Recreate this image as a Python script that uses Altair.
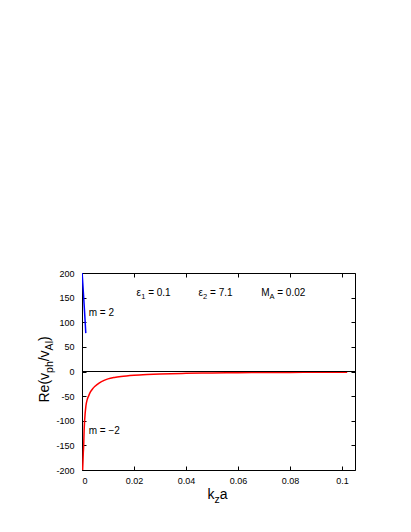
import altair as alt
import pandas as pd

# ---- data ----
kza_m_minus2 = [0.00025, 0.0005, 0.00065, 0.0008, 0.001, 0.0015, 0.002, 0.0026, 0.0033,
                0.0041, 0.005, 0.0067, 0.0085, 0.01, 0.0125, 0.015, 0.02, 0.025, 0.03,
                0.04, 0.05, 0.06, 0.07, 0.08, 0.09, 0.102]
vph_m_minus2 = [-200, -165, -150, -122, -100, -70, -57, -49, -41,
                -35, -30, -23, -18, -15, -12, -10, -7.5, -6, -5,
                -3.7, -3, -2.5, -2.1, -1.8, -1.6, -1.4]
kza_m_plus2 = [0.00005, 0.0005, 0.001, 0.00146]
vph_m_plus2 = [200, 163, 120, 78]

x_ticks = [0, 0.02, 0.04, 0.06, 0.08, 0.1]
y_ticks = [-200, -150, -100, -50, 0, 50, 100, 150, 200]

FONT = "Liberation Sans"
W, H = 273, 197

xs = alt.Scale(domain=[0, 0.105], nice=False, zero=False)
ys = alt.Scale(domain=[-200, 200], nice=False, zero=False)

EM = {"0": .556, "1": .556, "2": .556, "3": .556, "4": .556, "5": .556, "6": .556,
      "7": .556, "8": .556, "9": .556, ".": .278, " ": .278, "=": .584, "m": .833,
      "-": .333, "\u2212": .584, "M": .833, "A": .667, "\u03b5": .46, "k": .5, "z": .5,
      "a": .556, "R": .722, "e": .556, "(": .333, ")": .333, "v": .5, "p": .556,
      "h": .556, "/": .278, "l": .222}


def tw(s, size):
    return sum(EM.get(c, 0.556) for c in s) * size


def rich(parts, size, x_enc, y_enc, data, angle=0):
    layers = []
    off = 0.0
    for text, sub in parts:
        fs = size * 0.75 if sub else size
        dy = size * 0.3 if sub else 0
        lead = len(text) - len(text.lstrip(" "))
        off += tw(" " * lead, fs)
        body = text.lstrip(" ")
        props = dict(text=body, align="left", baseline="alphabetic", font=FONT,
                     fontSize=fs, dx=off, dy=dy, color="black")
        if angle:
            props["angle"] = angle
        layers.append(alt.Chart(data).mark_text(**props).encode(x=x_enc, y=y_enc))
        off += tw(body, fs)
    return layers


def data_label(parts, x, y, size=10):
    df = pd.DataFrame({"kza": [x], "v": [y]})
    return rich(parts, size, alt.X("kza:Q", scale=xs, axis=None),
                alt.Y("v:Q", scale=ys, axis=None), df)


one = pd.DataFrame({"a": [0]})

red_df = pd.DataFrame({"kza": kza_m_minus2, "v": vph_m_minus2})
blue_df = pd.DataFrame({"kza": kza_m_plus2, "v": vph_m_plus2})

common = dict(tickSize=4, offset=-4, domain=False, grid=False, title=None,
              tickColor="black", tickWidth=1)

bottom_axis = alt.Axis(orient="bottom", values=x_ticks, labelExpr="'' + datum.value",
                       labelPadding=6, labelFont=FONT, labelFontSize=9, labelColor="black", **common)
left_axis = alt.Axis(orient="left", values=y_ticks, labelExpr="'' + datum.value",
                     labelPadding=8, labelFont=FONT, labelFontSize=9, labelColor="black", **common)
top_axis = alt.Axis(orient="top", values=x_ticks, labels=False, **common)
right_axis = alt.Axis(orient="right", values=y_ticks, labels=False, **common)

red = alt.Chart(red_df).mark_line(color="#ff0000", strokeWidth=1.5, interpolate="monotone", clip=True).encode(
    x=alt.X("kza:Q", scale=xs, axis=bottom_axis),
    y=alt.Y("v:Q", scale=ys, axis=left_axis),
)

blue = alt.Chart(blue_df).mark_line(color="#0000ff", strokeWidth=1.5, clip=True).encode(
    x=alt.X("kza:Q", scale=xs, axis=top_axis),
    y=alt.Y("v:Q", scale=ys, axis=right_axis),
)

zero = alt.Chart(pd.DataFrame({"v": [0]})).mark_rule(color="black", strokeWidth=1).encode(
    y=alt.Y("v:Q", scale=ys, axis=None)
)

labels = []
labels += data_label([("\u03b5", False), ("1", True), (" = 0.1", False)], 0.021, 154)
labels += data_label([("\u03b5", False), ("2", True), (" = 7.1", False)], 0.0448, 154)
labels += data_label([("M", False), ("A", True), (" = 0.02", False)], 0.0689, 154)
labels += data_label([("m = 2", False)], 0.0026, 113)
labels += data_label([("m = \u22122", False)], 0.0026, -127)

# axis titles
labels += rich([("k", False), ("z", True), ("a", False)], 14,
               alt.value(125.5), alt.value(226), one)
labels += rich([("Re(v", False), ("ph", True), ("/v", False), ("Al", True), (")", False)], 14,
               alt.value(-33.5), alt.value(129.5), one, angle=270)

chart = alt.layer(red, blue, zero, *labels).resolve_axis(
    x="independent", y="independent"
).properties(
    width=W, height=H,
    autosize=alt.AutoSizeParams(type="none"),
    padding={"left": 74, "top": 265, "right": 48, "bottom": 54},
).configure_view(stroke="black", strokeWidth=1)

chart.save("out.html", embed_options={"renderer": "svg", "actions": False})
